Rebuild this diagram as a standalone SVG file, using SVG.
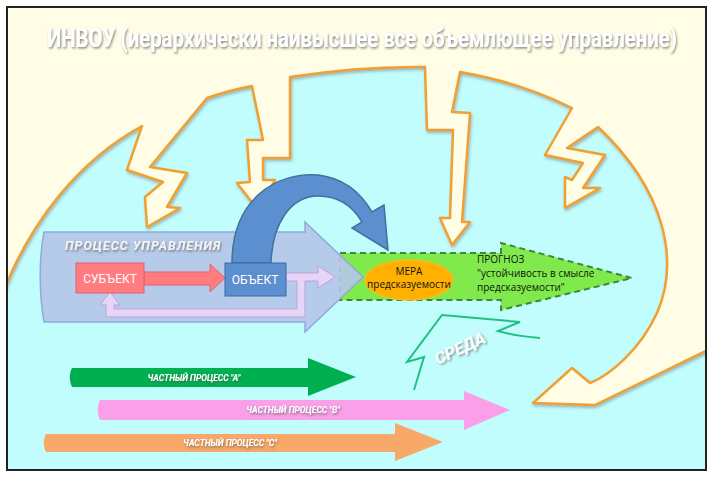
<svg xmlns="http://www.w3.org/2000/svg" width="714" height="477" viewBox="0 0 714 477">
<defs>
<clipPath id="fr"><rect x="7" y="7" width="699" height="463"/></clipPath>
<filter id="sh" x="-5%" y="-60%" width="110%" height="220%"><feDropShadow dx="1" dy="1.5" stdDeviation="1" flood-color="#555" flood-opacity="0.7"/></filter>
<filter id="gl" x="-10%" y="-10%" width="120%" height="120%"><feDropShadow dx="1" dy="2" stdDeviation="1.5" flood-color="#666" flood-opacity="0.45"/></filter>
</defs>
<style>
.wt{fill:#fff;font-family:Roboto,"Liberation Sans",sans-serif;font-weight:bold;filter:url(#sh)}
.bk{fill:#111;font-family:"Open Sans","Liberation Sans",sans-serif;font-size:10px}
.lb{font-family:Roboto,"Liberation Sans",sans-serif;font-size:12px;fill:#fff;text-anchor:middle}
.sm{fill:#fff;font-family:Roboto,"Liberation Sans",sans-serif;font-weight:bold;font-style:italic;font-size:8.5px;text-anchor:middle;filter:url(#sh)}
</style>
<rect x="7" y="7" width="699" height="463" fill="#c2fdfd"/>
<g id="ibvou" clip-path="url(#fr)">
<path filter="url(#gl)" fill="#fffde6" stroke="#f0a030" stroke-width="2.5" stroke-linejoin="round" d="M0,0 H714 V347 L595,405 L533,403 L572,368 L590,383 C610,375 640,350 657,313 C680,260 665,190 598,127 L567,148 L605,155 L583,188 L600,188 L565,208 L565,177 L572,180 L583,163 L545,155 L572,108 Q520,82 460,72 L452,112 L470,113 L462,222 L470,222 L452,245 L440,218 L450,218 L453,130 L427,130 L425,67 Q360,66 290,77 L290,158 L263,158 L263,180 L275,180 L258,210 L237,183 L250,182 L247,140 L263,140 L252,86 Q230,90 207,98 L150,167 L187,173 L167,207 L180,208 L147,227 L145,197 L163,182 L127,170 L142,126 C80,160 30,220 0,300 Z"/>
</g>
<text class="wt" x="362" y="47" font-size="25" font-weight="normal" text-anchor="middle" textLength="630" lengthAdjust="spacingAndGlyphs">ИНВОУ (иерархически наивысшее все объемлющее управление)</text>
<g id="prognoz">
<path d="M340,253 H501 V243 L632,278 L501,310 V300 H340 Z" fill="#80ea4c" stroke="#3a8a3a" stroke-width="2" stroke-dasharray="6 4"/>
<text class="bk" x="477" y="263">ПРОГНОЗ</text>
<text class="bk" x="477" y="277">"устойчивость в смысле</text>
<text class="bk" x="477" y="291">предсказуемости"</text>
</g>
<g id="process">
<path d="M44,232 H305 V222 L363,277 L305,332 V322 H44 C40,300 38,262 44,232 Z" fill="#b4c7e7" fill-opacity="0.92" stroke="#8faadc" stroke-width="1.5"/>
<text class="wt" x="65" y="250" font-size="12.5" font-style="italic" letter-spacing="1" style="fill:#f4f4f4">ПРОЦЕСС  УПРАВЛЕНИЯ</text>
</g>
<g id="mera">
<ellipse cx="409" cy="280" rx="44" ry="20" fill="#ffb000" stroke="#f0c020" stroke-width="1.5"/>
<text class="bk" x="409" y="275" text-anchor="middle">МЕРА</text>
<text class="bk" x="409" y="288" text-anchor="middle">предсказуемости</text>
</g>
<g id="connectors">
<path d="M286,273 H318 V266 L335,277 L318,288 V281 H305 V317 H106 V305 H100 L110,292 L120,305 H114 V309 H297 V281 H286 Z" fill="#e6d5f7" stroke="#b9a5d9" stroke-width="1"/>
<path d="M144,272 H210 V264 L225,278 L210,292 V285 H144 Z" fill="#ff7c80" stroke="#e86070" stroke-width="1"/>
<path d="M232,263 C232,200 275,172 318,175 C345,178 362,195 372,212 L384,205 L388,250 L352,228 L362,222 C352,205 338,196 318,196 C290,196 272,225 271,263 Z" fill="#5b8fd0" stroke="#41719c" stroke-width="1.5"/>
</g>
<g id="subject">
<rect x="76" y="263" width="68" height="30" fill="#ff7c80" stroke="#e06070"/>
<text class="lb" x="110" y="283">СУБЪЕКТ</text>
</g>
<g id="object">
<rect x="225" y="263" width="61" height="33" fill="#5b8fd0" stroke="#3a6aa8"/>
<text class="lb" x="255" y="284">ОБЪЕКТ</text>
</g>
<g id="sreda">
<path d="M540,338 Q515,336 498,331 L520,322 L442,315 L407,362 L424,357 L414,390" fill="none" stroke="#20c080" stroke-width="2"/>
<text class="wt" x="0" y="0" font-size="17" font-style="italic" transform="translate(438,365) rotate(-25)">СРЕДА</text>
</g>
<g id="procA">
<path d="M72,368 H308 V358 L356,377 L308,396 V387 H72 C69,380 69,374 72,368 Z" fill="#00b050"/>
<text class="sm" x="194" y="381">ЧАСТНЫЙ ПРОЦЕСС "А"</text>
</g>
<g id="procB">
<path d="M100,400 H464 V391 L510,410 L464,430 V420 H100 C97,413 97,406 100,400 Z" fill="#f9a0e8"/>
<text class="sm" x="293" y="413">ЧАСТНЫЙ ПРОЦЕСС "В"</text>
</g>
<g id="procC">
<path d="M46,434 H395 V423 L443,442 L395,461 V452 H46 C43,446 43,440 46,434 Z" fill="#f8a868"/>
<text class="sm" x="230" y="446">ЧАСТНЫЙ ПРОЦЕСС "С"</text>
</g>
<rect x="7" y="7" width="699" height="463" fill="none" stroke="#222" stroke-width="2"/>
</svg>
